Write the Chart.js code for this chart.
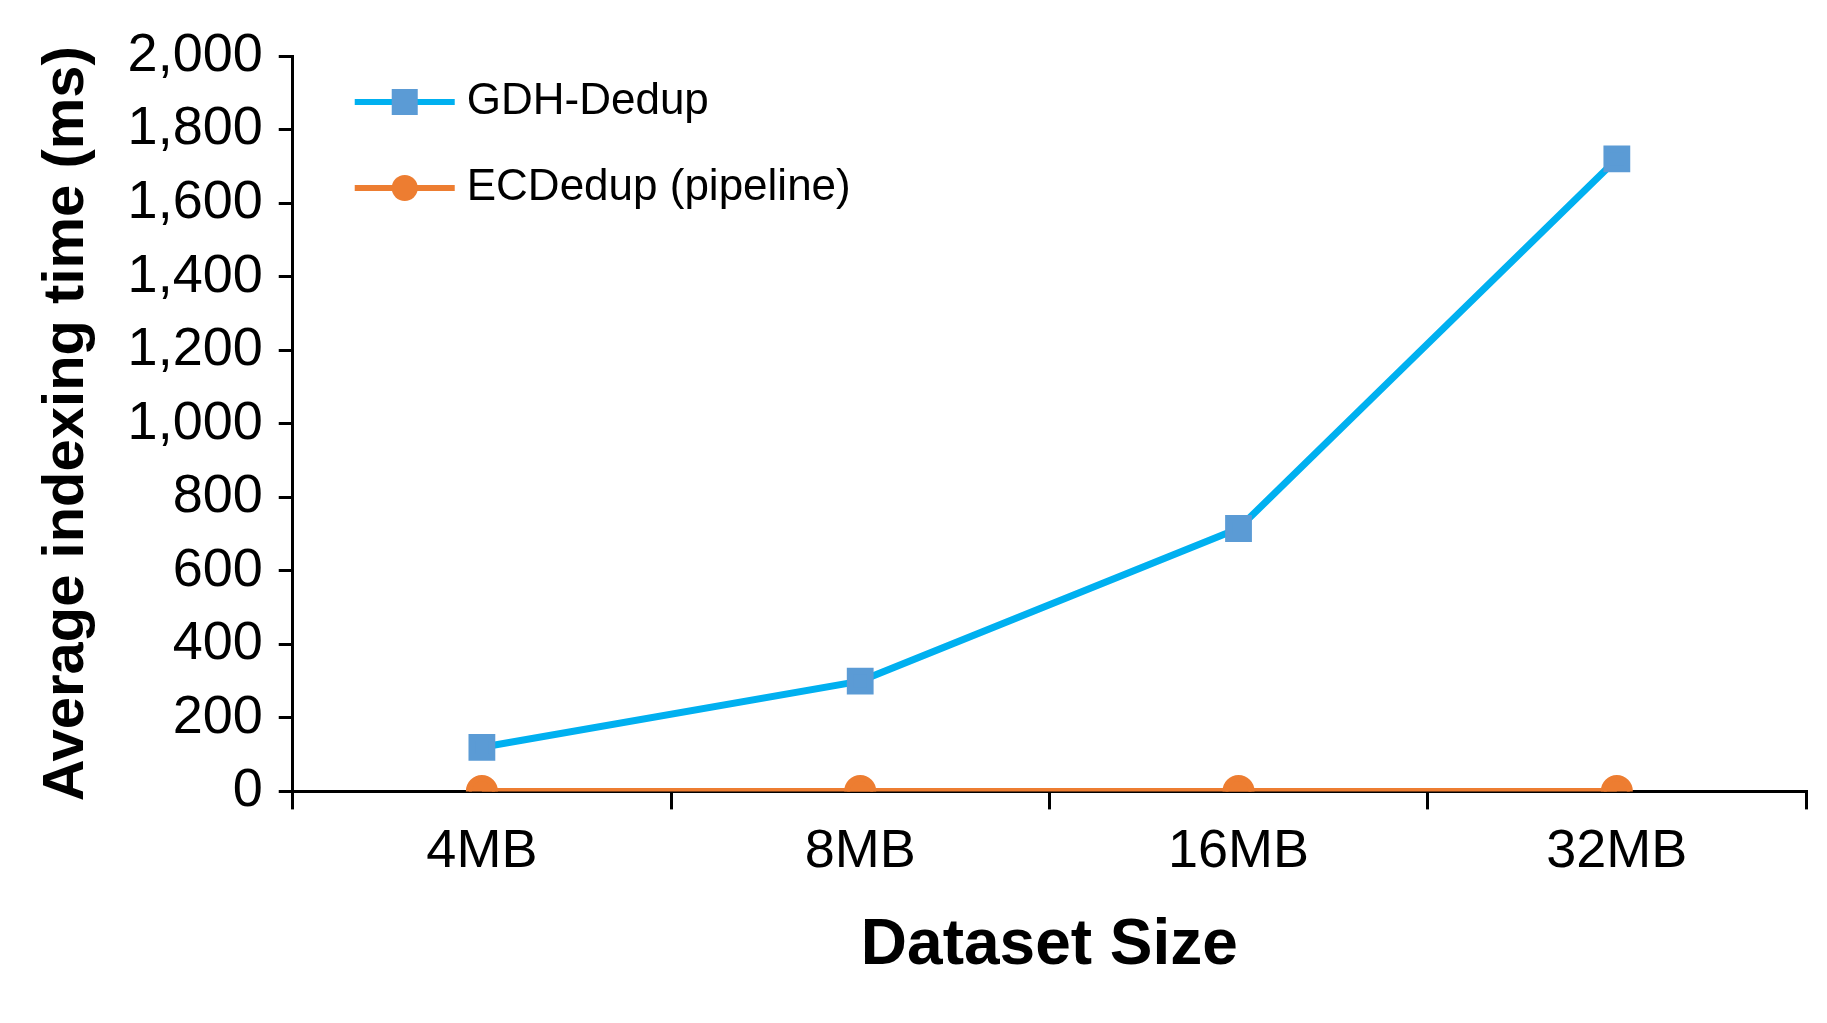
<!DOCTYPE html>
<html>
<head>
<meta charset="utf-8">
<script src="https://cdn.jsdelivr.net/npm/chart.js@4"></script>
<style>
  html, body { margin: 0; padding: 0; background: #fff; }
  #c { display: block; }
</style>
</head>
<body>
<canvas id="c" width="1827" height="1023"></canvas>
<script>
const categories = ['4MB', '8MB', '16MB', '32MB'];
const gdhDedup = [120, 300, 715, 1720];
const ecDedup = [1, 1, 1, 1];
const yTicks = [0, 200, 400, 600, 800, 1000, 1200, 1400, 1600, 1800, 2000];

const FONT = '"Liberation Sans", Arial, sans-serif';

// legend drawn inside the plot area, top-left
const insideLegend = {
  id: 'insideLegend',
  afterDraw(chart) {
    const { ctx, chartArea } = chart;
    const items = chart.data.datasets;
    const x0 = chartArea.left + 62;
    let y = chartArea.top + 46;
    ctx.save();
    items.forEach(ds => {
      ctx.strokeStyle = ds.borderColor;
      ctx.lineWidth = 6;
      ctx.beginPath();
      ctx.moveTo(x0, y);
      ctx.lineTo(x0 + 100, y);
      ctx.stroke();
      ctx.fillStyle = ds.pointBackgroundColor;
      if (ds.pointStyle === 'rect') {
        ctx.fillRect(x0 + 50 - 13, y - 13, 26, 26);
      } else {
        ctx.beginPath();
        ctx.arc(x0 + 50, y, 13, 0, Math.PI * 2);
        ctx.fill();
      }
      ctx.fillStyle = '#000';
      ctx.font = '44px ' + FONT;
      ctx.textBaseline = 'middle';
      ctx.fillText(ds.label, x0 + 112, y);
      y += 86;
    });
    ctx.restore();
  }
};

new Chart(document.getElementById('c'), {
  type: 'line',
  data: {
    labels: categories,
    datasets: [
      {
        label: 'GDH-Dedup',
        data: gdhDedup,
        borderColor: '#00B0F0',
        backgroundColor: '#5B9BD5',
        pointBackgroundColor: '#5B9BD5',
        pointBorderColor: '#5B9BD5',
        pointStyle: 'rect',
        pointRadius: 14,
        borderWidth: 7
      },
      {
        label: 'ECDedup (pipeline)',
        data: ecDedup,
        borderColor: '#ED7D31',
        backgroundColor: '#ED7D31',
        pointBackgroundColor: '#ED7D31',
        pointBorderColor: '#ED7D31',
        pointStyle: 'circle',
        pointRadius: 13,
        borderWidth: 6
      }
    ]
  },
  options: {
    responsive: false,
    animation: false,
    layout: { padding: { top: 56, right: 20, left: 28, bottom: 34 } },
    plugins: { legend: { display: false }, tooltip: { enabled: false } },
    scales: {
      x: {
        offset: true,
        grid: { display: true, drawOnChartArea: false, offset: true, color: '#000', lineWidth: 3, tickLength: 18 },
        border: { color: '#000', width: 3 },
        ticks: { color: '#000', font: { size: 54, family: FONT }, padding: 10 },
        title: { display: true, text: 'Dataset Size', color: '#000', font: { size: 64, weight: 'bold', family: FONT }, padding: { top: 14 } }
      },
      y: {
        min: 0,
        max: 2000,
        afterBuildTicks(axis) { axis.ticks = yTicks.map(v => ({ value: v })); },
        grid: { display: true, drawOnChartArea: false, color: '#000', lineWidth: 3, tickLength: 14 },
        border: { color: '#000', width: 3 },
        ticks: {
          color: '#000',
          font: { size: 54, family: FONT },
          padding: 16,
          callback: v => v.toLocaleString('en-US')
        },
        title: { display: true, text: 'Average indexing time (ms)', color: '#000', font: { size: 58, weight: 'bold', family: FONT }, padding: { bottom: 10 } }
      }
    }
  },
  plugins: [insideLegend]
});
</script>
</body>
</html>
